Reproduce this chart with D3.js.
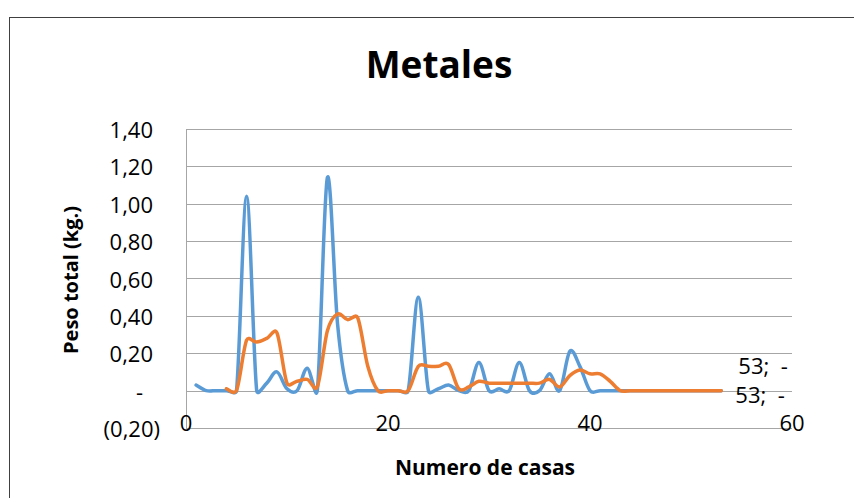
<!DOCTYPE html>
<meta charset="utf-8">
<style>
body {
  margin: 0;
  background: #fff;
}
svg {
  font-family: 'Open Sans', sans-serif;
}
.grid line {
  stroke: #a6a6a6;
  stroke-width: 1;
  shape-rendering: crispEdges;
}
.serie {
  fill: none;
  stroke-width: 3.5;
  stroke-linejoin: round;
  stroke-linecap: round;
}
.tick-label {
  font-size: 22px;
  fill: #000;
}
</style>
<body>
<script src="https://d3js.org/d3.v7.min.js"></script>
<script>

var width = 854,
    height = 498;

// Serie 1 (azul): casas 1..53
var inicio1 = 1;
var peso1 = [0.03, 0, 0, 0, 0, 1.04, 0, 0.04, 0.10, 0.01,
             0, 0.12, 0, 1.14, 0.36, 0, 0, 0, 0, 0,
             0, 0, 0.50, 0, 0.01, 0.03, 0, 0, 0.15, 0,
             0.01, 0, 0.15, 0, 0, 0.09, 0, 0.21, 0.13, 0,
             0, 0, 0, 0, 0, 0, 0, 0, 0, 0,
             0, 0, 0];

// Serie 2 (naranja): casas 4..53
var inicio2 = 4;
var peso2 = [0.01, 0, 0.27, 0.26, 0.28, 0.31, 0.04, 0.05, 0.06, 0.02,
             0.32, 0.41, 0.38, 0.39, 0.13, 0, 0, 0, 0, 0.13,
             0.13, 0.13, 0.14, 0.01, 0.02, 0.05, 0.04, 0.04, 0.04, 0.04,
             0.04, 0.04, 0.06, 0.02, 0.08, 0.11, 0.09, 0.09, 0.05, 0,
             0, 0, 0, 0, 0, 0, 0, 0, 0, 0];

var yTicks = [-0.2, 0, 0.2, 0.4, 0.6, 0.8, 1.0, 1.2, 1.4];
var xTicks = [0, 20, 40, 60];
var etiquetas = ["53;  -", "53;  -"];

function toPoints(start, vals) {
  return vals.map(function(v, i) { return [start + i, v]; });
}

var x = d3.scaleLinear().domain([0, 60]).range([186, 792]);
var y = d3.scaleLinear().domain([-0.2, 1.4]).range([428, 129]);

function fmt(v) {
  if (Math.abs(v) < 1e-9) return "-";
  var s = d3.format(".2f")(Math.abs(v)).replace(".", ",");
  return v < 0 ? "(" + s + ")" : s;
}

// linea suavizada tipo Excel: tangentes de 1/6 recortadas segun el tramo
function smoothPath(data) {
  var pts = data.map(d => [x(d[0]), y(d[1])]);
  var n = pts.length, k = 0.5;
  var p = d3.path();
  p.moveTo(pts[0][0], pts[0][1]);
  function tan(i) {
    var a = pts[Math.max(i - 1, 0)], b = pts[Math.min(i + 1, n - 1)];
    return [(b[0] - a[0]) / 6, (b[1] - a[1]) / 6];
  }
  function clamp(t, len) {
    var m = Math.hypot(t[0], t[1]);
    var s = m > 0 ? Math.min(1, k * len / m) : 0;
    return [t[0] * s, t[1] * s];
  }
  for (var i = 0; i < n - 1; i++) {
    var p1 = pts[i], p2 = pts[i + 1];
    var len = Math.hypot(p2[0] - p1[0], p2[1] - p1[1]);
    var t1 = clamp(tan(i), len), t2 = clamp(tan(i + 1), len);
    p.bezierCurveTo(p1[0] + t1[0], p1[1] + t1[1],
                    p2[0] - t2[0], p2[1] - t2[1],
                    p2[0], p2[1]);
  }
  return p.toString();
}

var svg = d3.select("body").append("svg")
    .attr("width", width)
    .attr("height", height);

// marco del grafico
svg.append("rect")
    .attr("x", 9.5)
    .attr("y", 17.5)
    .attr("width", 900)
    .attr("height", 600)
    .attr("fill", "#fff")
    .attr("stroke", "#404040")
    .attr("stroke-width", 1);

svg.append("g").attr("class", "grid")
    .selectAll("line").data(yTicks)
  .enter().append("line")
    .attr("x1", x(0))
    .attr("x2", x(60))
    .attr("y1", d => Math.round(y(d)) + 0.5)
    .attr("y2", d => Math.round(y(d)) + 0.5);

svg.append("line")
    .attr("x1", Math.round(x(0)) + 0.5)
    .attr("x2", Math.round(x(0)) + 0.5)
    .attr("y1", y(1.4))
    .attr("y2", y(-0.2))
    .attr("stroke", "#a6a6a6")
    .attr("shape-rendering", "crispEdges");

// etiquetas eje y
svg.append("g")
    .selectAll("text").data(yTicks)
  .enter().append("text")
    .attr("class", "tick-label")
    .attr("x", d => d < 0 ? 160 : (Math.abs(d) < 1e-9 ? 143 : 153))
    .attr("y", d => y(d) + 9)
    .attr("text-anchor", "end")
    .text(fmt);

// etiquetas eje x
svg.append("g")
    .selectAll("text").data(xTicks)
  .enter().append("text")
    .attr("class", "tick-label")
    .attr("x", d => x(d))
    .attr("y", y(-0.2) + 3)
    .attr("text-anchor", "middle")
    .text(d => d);

svg.append("path")
    .datum(toPoints(inicio1, peso1))
    .attr("class", "serie")
    .attr("stroke", "#5b9bd5")
    .attr("d", smoothPath);

svg.append("path")
    .datum(toPoints(inicio2, peso2))
    .attr("class", "serie")
    .attr("stroke", "#ed7d31")
    .attr("d", smoothPath);

// etiquetas de datos del ultimo punto
var last1 = inicio1 + peso1.length - 1,
    last2 = inicio2 + peso2.length - 1;

svg.append("text")
    .attr("class", "tick-label")
    .attr("x", x(last1) + 17)
    .attr("y", y(peso1[peso1.length - 1]) - 17)
    .style("white-space", "pre")
    .text(etiquetas[0]);

svg.append("text")
    .attr("class", "tick-label")
    .attr("x", x(last2) + 14)
    .attr("y", y(peso2[peso2.length - 1]) + 12)
    .style("white-space", "pre")
    .text(etiquetas[1]);

// titulos
svg.append("text")
    .attr("x", 439)
    .attr("y", 78)
    .attr("text-anchor", "middle")
    .style("font-size", "37px")
    .style("font-weight", "bold")
    .text("Metales");

svg.append("text")
    .attr("x", 485)
    .attr("y", 475)
    .attr("text-anchor", "middle")
    .style("font-size", "21px")
    .style("font-weight", "bold")
    .text("Numero de casas");

svg.append("text")
    .attr("transform", "translate(78,280) rotate(-90)")
    .attr("text-anchor", "middle")
    .style("font-size", "20px")
    .style("font-weight", "bold")
    .text("Peso total (kg.)");

</script>
